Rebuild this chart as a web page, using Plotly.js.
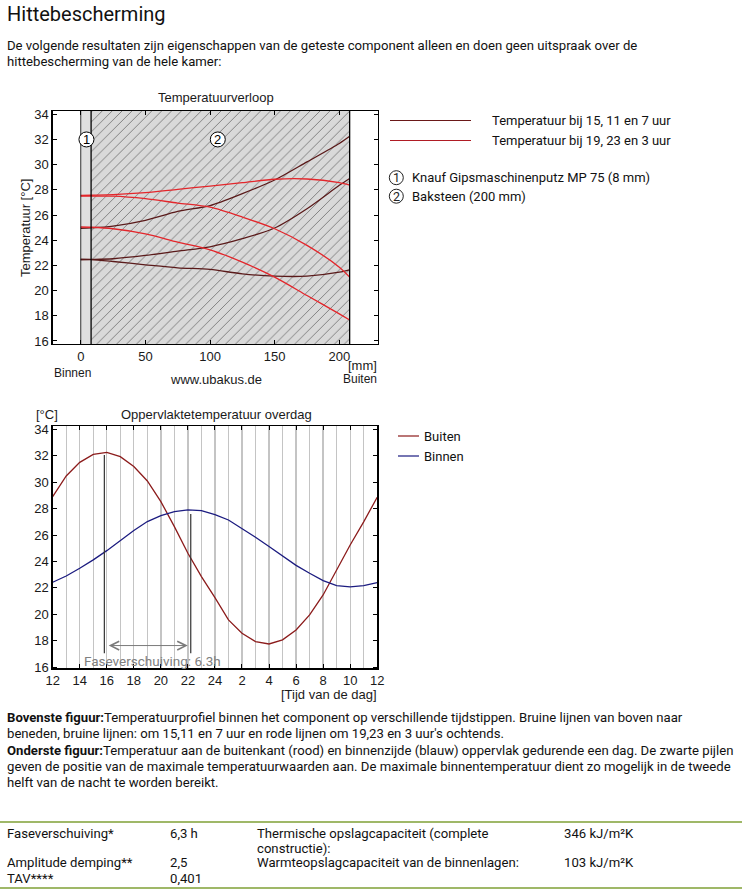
<!DOCTYPE html>
<html>
<head>
<meta charset="utf-8">
<script src="https://cdn.plot.ly/plotly-3.0.1.min.js"></script>
<style>
  html, body { margin:0; padding:0; background:#fff; }
  body { width:742px; height:892px; position:relative; overflow:hidden; font-family: Roboto, "Noto Sans", sans-serif; color:#111; }
  #chart { position:absolute; left:0; top:0; width:742px; height:892px; }
  .t { position:absolute; white-space:nowrap; font-size:13.15px; line-height:16.3px; z-index:5; pointer-events:none; }
  .tb { line-height:15px; }
  .h1 { position:absolute; left:7px; top:1px; font-size:20px; line-height:26px; z-index:5; }
  .rule { position:absolute; left:0; width:742px; height:1.5px; background:#9fb868; z-index:5; }
  b { font-weight:700; }
</style>
</head>
<body>
<div id="chart"></div>
<div class="h1">Hittebescherming</div>
<div class="t" style="left:7px; top:38px;">De volgende resultaten zijn eigenschappen van de geteste component alleen en doen geen uitspraak over de<br>hittebescherming van de hele kamer:</div>
<div class="t" style="left:7px; top:710px;"><b>Bovenste figuur:</b>Temperatuurprofiel binnen het component op verschillende tijdstippen. Bruine lijnen van boven naar<br>beneden, bruine lijnen: om 15,11 en 7 uur en rode lijnen om 19,23 en 3 uur's ochtends.<br><b>Onderste figuur:</b>Temperatuur aan de buitenkant (rood) en binnenzijde (blauw) oppervlak gedurende een dag. De zwarte pijlen<br>geven de positie van de maximale temperatuurwaarden aan. De maximale binnentemperatuur dient zo mogelijk in de tweede<br>helft van de nacht te worden bereikt.</div>
<div class="rule" style="top:821px;"></div>
<div class="rule" style="top:887px;"></div>
<div class="t tb" style="left:7px; top:825.5px;">Faseverschuiving*</div>
<div class="t tb" style="left:170px; top:825.5px;">6,3 h</div>
<div class="t tb" style="left:257px; top:825.5px;">Thermische opslagcapaciteit (complete<br>constructie):</div>
<div class="t tb" style="left:564px; top:825.5px;">346 kJ/m²K</div>
<div class="t tb" style="left:7px; top:855px;">Amplitude demping**</div>
<div class="t tb" style="left:170px; top:855px;">2,5</div>
<div class="t tb" style="left:257px; top:855px;">Warmteopslagcapaciteit van de binnenlagen:</div>
<div class="t tb" style="left:564px; top:855px;">103 kJ/m²K</div>
<div class="t tb" style="left:7px; top:870.5px;">TAV****</div>
<div class="t tb" style="left:170px; top:870.5px;">0,401</div>
<script>
// ---------- DATA ----------
// Top chart: temperature profile through the wall
const layerNames = ["1", "2"];
const layerThickness = [8, 200]; // mm
const layerLegend = ["Knauf Gipsmaschinenputz MP 75 (8 mm)", "Baksteen (200 mm)"];
const posMm = [0, 8, 25, 50, 75, 100, 125, 150, 175, 200, 208];
const temp15 = [24.95, 24.98, 25.12, 25.58, 26.29, 26.75, 27.70, 28.78, 30.22, 31.68, 32.25];
const temp11 = [22.47, 22.48, 22.53, 22.79, 23.14, 23.48, 24.12, 24.97, 26.50, 28.36, 28.90];
const temp7  = [22.47, 22.46, 22.31, 22.05, 21.81, 21.68, 21.33, 21.15, 21.15, 21.46, 21.65];
const temp19 = [27.55, 27.57, 27.62, 27.78, 28.04, 28.30, 28.57, 28.84, 28.86, 28.57, 28.38];
const temp23 = [27.50, 27.50, 27.50, 27.30, 26.95, 26.62, 25.84, 24.91, 23.59, 21.86, 21.07];
const temp3  = [25.05, 25.03, 24.91, 24.51, 23.85, 23.24, 22.26, 21.07, 19.61, 18.15, 17.67];
const topYTicks = [16, 18, 20, 22, 24, 26, 28, 30, 32, 34];
const topXTicks = [0, 50, 100, 150, 200];

// Bottom chart: surface temperatures during one day
const hours = [12,13,14,15,16,17,18,19,20,21,22,23,24,25,26,27,28,29,30,31,32,33,34,35,36];
const buiten = [28.90, 30.47, 31.50, 32.10, 32.26, 31.93, 31.18, 30.09, 28.53, 26.64, 24.62, 22.86, 21.27,
                19.58, 18.57, 17.94, 17.76, 18.07, 18.82, 19.96, 21.47, 23.41, 25.25, 27.00, 28.86];
const binnen = [22.43, 22.90, 23.49, 24.12, 24.82, 25.58, 26.34, 27.02, 27.47, 27.77, 27.90, 27.85, 27.55,
                27.14, 26.51, 25.83, 25.13, 24.42, 23.71, 23.11, 22.55, 22.18, 22.08, 22.18, 22.40];
const hourTickVals = [12,14,16,18,20,22,24,26,28,30,32,34,36];
const hourTickText = ["12","14","16","18","20","22","24","2","4","6","8","10","12"];
const peakHours = [15.82, 22.21];
const peakTemps = [32.06, 27.60];
const peakLineBottom = 17.06;
const arrowY = 17.64;
const arrowFrom = 16.03, arrowTo = 21.99;
const phaseShiftLabel = "Faseverschuiving: 6.3h";
const phaseLabelPos = [14.15, 16.5];

// ---------- LAYOUT HELPERS ----------
const W = 742, H = 892;
const px = x => x / W;
const py = y => 1 - y / H;

const brown = "#5a1a1a", red = "#e3262b";
const buitenColor = "#8c1c1c", binnenColor = "#1c1c80";

const topXRange = [-21.7, 229.7], topYRange = [15.76, 34.26];
const botXRange = [12, 36], botYRange = [15.92, 34.25];

// layer boundaries
const bounds = [0];
layerThickness.forEach(t => bounds.push(bounds[bounds.length - 1] + t));

const traces = [];
// layer fills
traces.push({
  x: [bounds[0], bounds[1], bounds[1], bounds[0], bounds[0]],
  y: [topYRange[0], topYRange[0], topYRange[1], topYRange[1], topYRange[0]],
  xaxis: "x", yaxis: "y", mode: "lines", fill: "toself",
  fillcolor: "#e0e0e0", line: {width: 0}, hoverinfo: "skip", showlegend: false
});
traces.push({
  x: [bounds[1], bounds[2], bounds[2], bounds[1], bounds[1]],
  y: [topYRange[0], topYRange[0], topYRange[1], topYRange[1], topYRange[0]],
  xaxis: "x", yaxis: "y", mode: "lines", fill: "toself",
  fillcolor: "#d9d9d9",
  fillpattern: {shape: "/", bgcolor: "#d9d9d9", fgcolor: "#808080", size: 7, solidity: 0.14},
  line: {width: 0}, hoverinfo: "skip", showlegend: false
});
// temperature profiles
[[temp15, brown], [temp11, brown], [temp7, brown], [temp19, red], [temp23, red], [temp3, red]].forEach(([arr, c]) => {
  traces.push({x: posMm, y: arr, xaxis: "x", yaxis: "y", mode: "lines",
    line: {color: c, width: 1.3, shape: "spline", smoothing: 0.8}, showlegend: false, hoverinfo: "skip"});
});
// bottom chart
traces.push({x: hours, y: buiten, xaxis: "x2", yaxis: "y2", mode: "lines",
  line: {color: buitenColor, width: 1.3}, showlegend: false});
traces.push({x: hours, y: binnen, xaxis: "x2", yaxis: "y2", mode: "lines",
  line: {color: binnenColor, width: 1.3}, showlegend: false});
peakHours.forEach((h, i) => {
  traces.push({x: [h, h], y: [peakLineBottom, peakTemps[i]], xaxis: "x2", yaxis: "y2", mode: "lines",
    line: {color: "#333", width: 1.2}, showlegend: false, hoverinfo: "skip"});
});

const axisCommon = {
  showline: true, linecolor: "#000", linewidth: 1.3, mirror: "ticks",
  ticks: "inside", ticklen: 4, tickcolor: "#000", tickwidth: 1,
  zeroline: false, showgrid: false, fixedrange: true,
  tickfont: {family: "Liberation Sans, Arial, sans-serif", size: 13, color: "#1a1a1a"}
};

const shapes = [];
// layer boundary lines
bounds.forEach(b => shapes.push({type: "line", xref: "x", yref: "y", x0: b, x1: b,
  y0: topYRange[0], y1: topYRange[1], line: {color: "#000", width: b === 0 ? 0.8 : 1.3}}));
// layer number circles
const layerMid = [bounds[0] + 4.4, 106];
layerMid.forEach(m => shapes.push({type: "circle", xref: "x", yref: "y",
  xsizemode: "pixel", ysizemode: "pixel", xanchor: m, yanchor: 32,
  x0: -7.5, x1: 7.5, y0: -7.5, y1: 7.5, fillcolor: "#fff", line: {color: "#000", width: 1}}));
// layer legend circles
const layerLegendY = [177.7, 196.2];
layerLegendY.forEach(yy => shapes.push({type: "circle", xref: "paper", yref: "paper",
  xsizemode: "pixel", ysizemode: "pixel", xanchor: px(396.3), yanchor: py(yy),
  x0: -7, x1: 7, y0: -7, y1: 7, fillcolor: "#fff", line: {color: "#222", width: 1}}));
// top legend lines
shapes.push({type: "line", xref: "paper", yref: "paper", x0: px(390), x1: px(471), y0: py(120.5), y1: py(120.5), line: {color: "#6a1818", width: 1.2}});
shapes.push({type: "line", xref: "paper", yref: "paper", x0: px(390), x1: px(471), y0: py(140.5), y1: py(140.5), line: {color: "#b01c24", width: 1.2}});
// bottom legend lines
shapes.push({type: "line", xref: "paper", yref: "paper", x0: px(398), x1: px(419), y0: py(436), y1: py(436), line: {color: buitenColor, width: 1.2}});
shapes.push({type: "line", xref: "paper", yref: "paper", x0: px(398), x1: px(419), y0: py(456), y1: py(456), line: {color: binnenColor, width: 1.2}});

const arialF = (s, c) => ({family: "Liberation Sans, Arial, sans-serif", size: s, color: c || "#1a1a1a"});
const robotoF = (s, c) => ({family: "Roboto, sans-serif", size: s, color: c || "#111"});
const ann = (text, x, y, xa, font, extra) => Object.assign({text, x: px(x), y: py(y), xref: "paper", yref: "paper",
  xanchor: xa, yanchor: "middle", showarrow: false, font}, extra || {});

const annotations = [
  ann("Temperatuurverloop", 215.5, 98, "center", arialF(13)),
  ann("Temperatuur [°C]", 25, 228, "center", arialF(13), {textangle: -90}),
  ann("Binnen", 52, 373, "left", arialF(12)),
  ann("www.ubakus.de", 215.8, 379, "center", arialF(13)),
  ann("[mm]", 378.5, 366, "right", arialF(13)),
  ann("Buiten", 378.5, 379, "right", arialF(12)),
  ann("Temperatuur bij 15, 11 en 7 uur", 490, 120.5, "left", robotoF(13)),
  ann("Temperatuur bij 19, 23 en 3 uur", 490, 140.5, "left", robotoF(13)),
  ann("[°C]", 34, 415, "left", arialF(13)),
  ann("Oppervlaktetemperatuur overdag", 216, 415, "center", arialF(13)),
  ann("[Tijd van de dag]", 378.5, 694, "right", arialF(13)),
  ann("Buiten", 422, 436, "left", robotoF(13)),
  ann("Binnen", 422, 456, "left", robotoF(13))
];
layerLegend.forEach((t, i) => {
  annotations.push(ann(t, 409.5, layerLegendY[i], "left", robotoF(13)));
  annotations.push(ann(layerNames[i], 396.3, layerLegendY[i], "center", robotoF(12.5, "#222")));
});
layerNames.forEach((n, i) => annotations.push({text: n, x: layerMid[i], y: 32, xref: "x", yref: "y",
  showarrow: false, font: arialF(13, "#000"), xanchor: "center", yanchor: "middle"}));
annotations.push({text: phaseShiftLabel, x: phaseLabelPos[0], y: phaseLabelPos[1], xref: "x2", yref: "y2",
  xanchor: "left", yanchor: "middle", showarrow: false, font: robotoF(13.5, "#808080")});
annotations.push({text: "", x: arrowTo, y: arrowY, ax: arrowFrom, ay: arrowY, xref: "x2", yref: "y2",
  axref: "x2", ayref: "y2", showarrow: true, arrowside: "end+start", arrowhead: 5, startarrowhead: 5,
  arrowsize: 1.7, startarrowsize: 1.7, arrowwidth: 1, arrowcolor: "#7a7a7a"});

const layout = {
  width: W, height: H, margin: {l: 0, r: 0, t: 0, b: 0},
  paper_bgcolor: "#fff", plot_bgcolor: "#fff", showlegend: false,
  font: {family: "Liberation Sans, Arial, sans-serif", size: 13, color: "#1a1a1a"},
  xaxis: Object.assign({}, axisCommon, {domain: [px(52.7), px(377.7)], range: topXRange,
    tickmode: "array", tickvals: topXTicks, anchor: "y"}),
  yaxis: Object.assign({}, axisCommon, {domain: [py(344), py(111)], range: topYRange,
    tickmode: "array", tickvals: topYTicks, anchor: "x"}),
  xaxis2: Object.assign({}, axisCommon, {domain: [px(52.7), px(377.2)], range: botXRange,
    tickmode: "array", tickvals: hourTickVals, ticktext: hourTickText, anchor: "y2",
    showgrid: true, gridcolor: "#c4c4c4", gridwidth: 1.3,
    minor: {tickmode: "linear", tick0: 12, dtick: 1, showgrid: true, gridcolor: "#c4c4c4", gridwidth: 1.3, ticks: ""}}),
  yaxis2: Object.assign({}, axisCommon, {domain: [py(668.3), py(426)], range: botYRange,
    tickmode: "array", tickvals: topYTicks, anchor: "x2"}),
  shapes, annotations
};

Plotly.newPlot("chart", traces, layout, {staticPlot: true, displayModeBar: false});
</script>
</body>
</html>
